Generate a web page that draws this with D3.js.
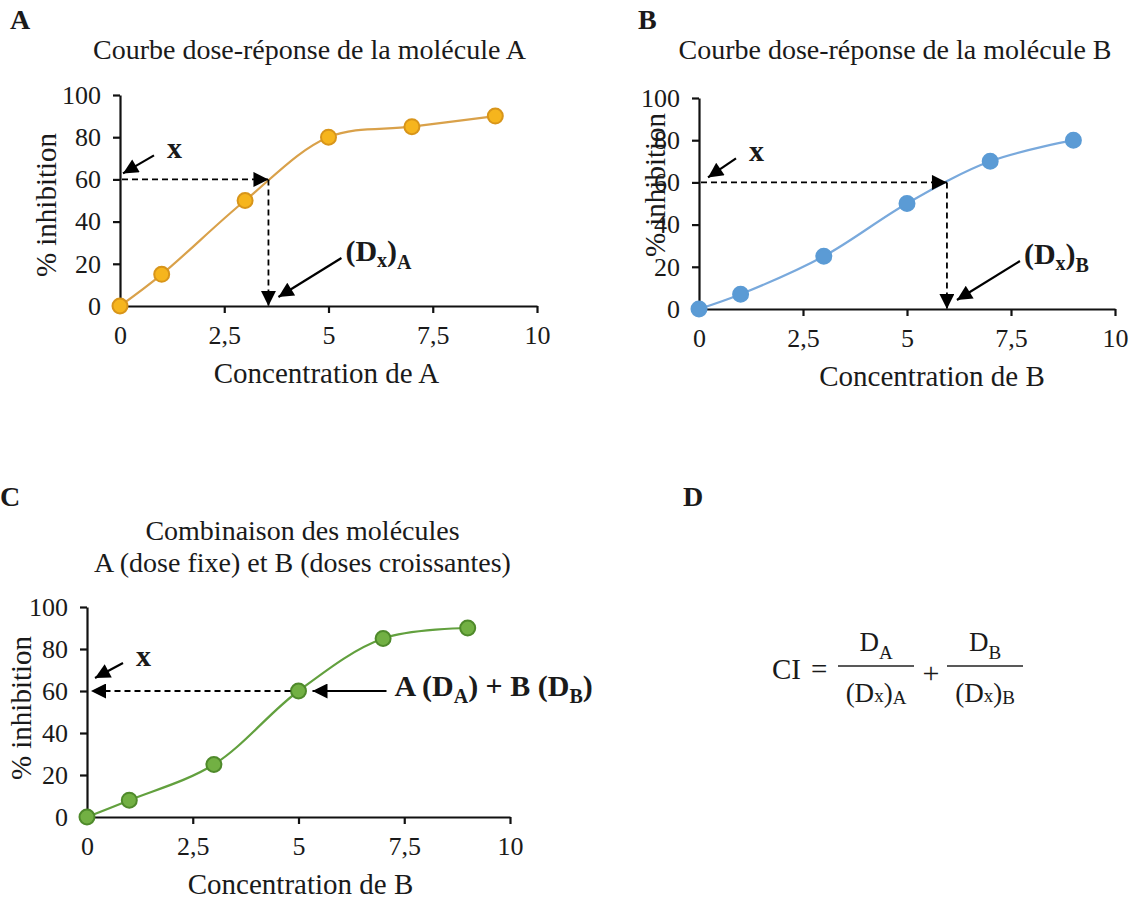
<!DOCTYPE html>
<html>
<head>
<meta charset="utf-8">
<script src="https://cdn.jsdelivr.net/npm/d3@7"></script>
<style>
  body { margin: 0; background: #fff; }
  svg text { font-family: "Liberation Serif", "Times New Roman", serif; fill: #1a1a1a; }
  .axis path, .axis line { stroke: #111; stroke-width: 2.2; }
  .axis text { font-size: 26px; }
  .bold { font-weight: bold; }
</style>
</head>
<body>
<svg id="chart" width="1136" height="901"></svg>
<script>
// dose-response data
const concA = [0, 1, 3, 5, 7, 9];
const inhibA = [0, 15, 50, 80, 85, 90];
const concB = [0, 1, 3, 5, 7, 9];
const inhibB = [0, 7, 25, 50, 70, 80];
const concC = [0, 1, 3, 5, 7, 9];
const inhibC = [0, 8, 25, 60, 85, 90];

const xTicks = [0, 2.5, 5, 7.5, 10];
const yTicks = [0, 20, 40, 60, 80, 100];

const effectX = 60;      // % inhibition "x"
const dxA = 3.56;        // (Dx)A
const dxB = 5.96;        // (Dx)B
const comboDose = 5;     // dose of B in combination reaching x

const svg = d3.select('#chart');

// arrowhead
svg.append('defs').append('marker')
  .attr('id', 'head')
  .attr('viewBox', '0 0 10 10')
  .attr('refX', 10).attr('refY', 5)
  .attr('markerUnits', 'userSpaceOnUse')
  .attr('markerWidth', 17).attr('markerHeight', 15)
  .attr('orient', 'auto')
  .append('path')
  .attr('d', 'M0,0L10,5L0,10Z')
  .attr('fill', '#000');

class DosePanel {
  constructor(_config, _x, _y) {
    this.config = _config;
    this.data = _x.map((d, i) => ({ c: d, v: _y[i] }));
    this.initVis();
  }

  initVis() {
    let vis = this;
    const c = vis.config;

    vis.xScale = d3.scaleLinear().domain([0, 10]).range([c.x0, c.x1]);
    vis.yScale = d3.scaleLinear().domain([0, 100]).range([c.y0, c.y1]);

    vis.g = svg.append('g');

    // panel letter
    vis.g.append('text').attr('class', 'bold')
      .attr('x', c.letterX).attr('y', c.letterY)
      .attr('font-size', 28)
      .text(c.letter);

    // title lines
    c.title.forEach((t, i) => {
      vis.g.append('text')
        .attr('x', (c.x0 + c.x1) / 2 + c.titleDx)
        .attr('y', c.titleY + i * 32)
        .attr('text-anchor', 'middle')
        .attr('font-size', 28)
        .text(t);
    });

    const fmt = d => String(d).replace('.', ',');

    vis.g.append('g').attr('class', 'axis')
      .attr('transform', `translate(0,${c.y0})`)
      .call(d3.axisBottom(vis.xScale).tickValues(xTicks).tickFormat(fmt)
        .tickSize(7).tickSizeOuter(0).tickPadding(13));

    vis.g.append('g').attr('class', 'axis')
      .attr('transform', `translate(${c.x0},0)`)
      .call(d3.axisLeft(vis.yScale).tickValues(yTicks)
        .tickSize(7).tickSizeOuter(0).tickPadding(12));

    vis.g.selectAll('.axis text').attr('fill', '#1a1a1a').style('fill', '#1a1a1a');

    // axis titles
    vis.g.append('text')
      .attr('x', (c.x0 + c.x1) / 2 + c.xTitleDx)
      .attr('y', c.y0 + 77)
      .attr('text-anchor', 'middle')
      .attr('font-size', 29)
      .text(c.xTitle);

    vis.g.append('text')
      .attr('transform', `translate(${c.yTitleX},${c.yTitleY}) rotate(-90)`)
      .attr('text-anchor', 'middle')
      .attr('font-size', 29)
      .text('% inhibition');

    // smoothed line + markers
    const line = d3.line()
      .x(d => vis.xScale(d.c))
      .y(d => vis.yScale(d.v))
      .curve(d3.curveCatmullRom.alpha(0.5));

    vis.g.append('path')
      .datum(vis.data)
      .attr('d', line)
      .attr('fill', 'none')
      .attr('stroke', c.lineColor)
      .attr('stroke-width', 2.2);

    vis.g.selectAll('.dot')
      .data(vis.data)
      .enter().append('circle')
      .attr('class', 'dot')
      .attr('cx', d => vis.xScale(d.c))
      .attr('cy', d => vis.yScale(d.v))
      .attr('r', 7.5)
      .attr('fill', c.dotFill)
      .attr('stroke', c.dotStroke)
      .attr('stroke-width', 2);
  }

  arrow(x1, y1, x2, y2, dashed) {
    this.g.append('line')
      .attr('x1', x1).attr('y1', y1)
      .attr('x2', x2).attr('y2', y2)
      .attr('stroke', '#000')
      .attr('stroke-width', dashed ? 1.8 : 2.2)
      .attr('stroke-dasharray', dashed ? '6,4' : null)
      .attr('marker-end', 'url(#head)');
  }

  // small "x" arrow pointing at the effect level on the y axis
  effectLabel(dx, dy, tx, ty) {
    const tipX = this.xScale(0) + dx, tipY = this.yScale(effectX) + dy;
    this.arrow(tipX + tx, tipY + ty, tipX, tipY, false);
    this.g.append('text').attr('class', 'bold')
      .attr('x', tipX + tx + 13).attr('y', tipY + ty + 3)
      .attr('font-size', 30)
      .text('x');
  }

  // dashed read-off lines: effect x -> curve -> dose
  readOff(dose) {
    const px = this.xScale(dose), py = this.yScale(effectX);
    this.arrow(this.xScale(0) + 2, py, px, py, true);
    this.arrow(px, py, px, this.yScale(0), true);
  }

  doseLabel(dose, sub) {
    const tipX = this.xScale(dose) + 10, tipY = this.yScale(0) - 9;
    const tailX = tipX + 63, tailY = tipY - 39;
    this.arrow(tailX, tailY, tipX, tipY, false);
    const t = this.g.append('text').attr('class', 'bold')
      .attr('x', tailX + 4).attr('y', tailY + 3)
      .attr('font-size', 30);
    t.append('tspan').text('(D');
    t.append('tspan').attr('font-size', 20).attr('dy', 6).text('x');
    t.append('tspan').attr('dy', -6).text(')');
    t.append('tspan').attr('font-size', 20).attr('dy', 8).text(sub);
  }
}

const panelA = new DosePanel({
  letter: 'A', letterX: 10, letterY: 29,
  title: ['Courbe dose-réponse de la molécule A'], titleY: 59, titleDx: -19,
  x0: 120, x1: 537, y0: 306, y1: 95,
  xTitle: 'Concentration de A', xTitleDx: -2,
  yTitleX: 56, yTitleY: 205,
  lineColor: '#d9a14a', dotFill: '#f6b51d', dotStroke: '#d8951a'
}, concA, inhibA);
panelA.readOff(dxA);
panelA.effectLabel(3, -6, 31, -18);
panelA.doseLabel(dxA, 'A');

const panelB = new DosePanel({
  letter: 'B', letterX: 638, letterY: 29,
  title: ['Courbe dose-réponse de la molécule B'], titleY: 59, titleDx: -12,
  x0: 699, x1: 1115, y0: 309, y1: 98,
  xTitle: 'Concentration de B', xTitleDx: 25,
  yTitleX: 665, yTitleY: 185,
  lineColor: '#79a9dc', dotFill: '#5b9bd5', dotStroke: '#5b9bd5'
}, concB, inhibB);
panelB.readOff(dxB);
panelB.effectLabel(9, -5, 28, -19);
panelB.doseLabel(dxB, 'B');

const panelC = new DosePanel({
  letter: 'C', letterX: 0, letterY: 506,
  title: ['Combinaison des molécules', 'A (dose fixe) et B (doses croissantes)'], titleY: 540, titleDx: 4,
  x0: 87, x1: 510, y0: 817, y1: 607,
  xTitle: 'Concentration de B', xTitleDx: 2,
  yTitleX: 31, yTitleY: 708,
  lineColor: '#62a03e', dotFill: '#72b043', dotStroke: '#4f8a2b'
}, concC, inhibC);
panelC.effectLabel(8, -13, 28, -15);
// dashed from combination point back to the y axis
panelC.arrow(panelC.xScale(comboDose) - 8, panelC.yScale(effectX),
  panelC.xScale(0) + 4, panelC.yScale(effectX), true);
{
  const tipX = panelC.xScale(comboDose) + 14, tipY = panelC.yScale(effectX);
  panelC.arrow(tipX + 74, tipY, tipX, tipY, false);
  const t = panelC.g.append('text').attr('class', 'bold')
    .attr('x', tipX + 82).attr('y', tipY + 5)
    .attr('font-size', 30);
  t.append('tspan').text('A (D');
  t.append('tspan').attr('font-size', 20).attr('dy', 7).text('A');
  t.append('tspan').attr('dy', -7).text(') + B (D');
  t.append('tspan').attr('font-size', 20).attr('dy', 7).text('B');
  t.append('tspan').attr('dy', -7).text(')');
}

// panel D: combination index formula
const gD = svg.append('g');
gD.append('text').attr('class', 'bold')
  .attr('x', 683).attr('y', 506).attr('font-size', 28).text('D');
gD.append('text').attr('x', 772).attr('y', 679).attr('font-size', 29).text('CI');
gD.append('text').attr('x', 811).attr('y', 679).attr('font-size', 29).text('=');

function fraction(x1, x2, sub) {
  const mid = (x1 + x2) / 2;
  gD.append('line').attr('x1', x1).attr('x2', x2)
    .attr('y1', 666).attr('y2', 666)
    .attr('stroke', '#222').attr('stroke-width', 1.6);
  const num = gD.append('text').attr('x', mid).attr('y', 651)
    .attr('text-anchor', 'middle').attr('font-size', 27);
  num.append('tspan').text('D');
  num.append('tspan').attr('font-size', 19).attr('dy', 8).text(sub);
  const den = gD.append('text').attr('x', mid).attr('y', 702)
    .attr('text-anchor', 'middle').attr('font-size', 27);
  den.append('tspan').text('(D');
  den.append('tspan').attr('font-size', 19).text('x');
  den.append('tspan').text(')');
  den.append('tspan').attr('font-size', 19).attr('dy', 2).text(sub);
}
fraction(838, 914, 'A');
gD.append('text').attr('x', 931).attr('y', 683).attr('text-anchor', 'middle')
  .attr('font-size', 30).text('+');
fraction(947, 1023, 'B');
</script>
</body>
</html>
